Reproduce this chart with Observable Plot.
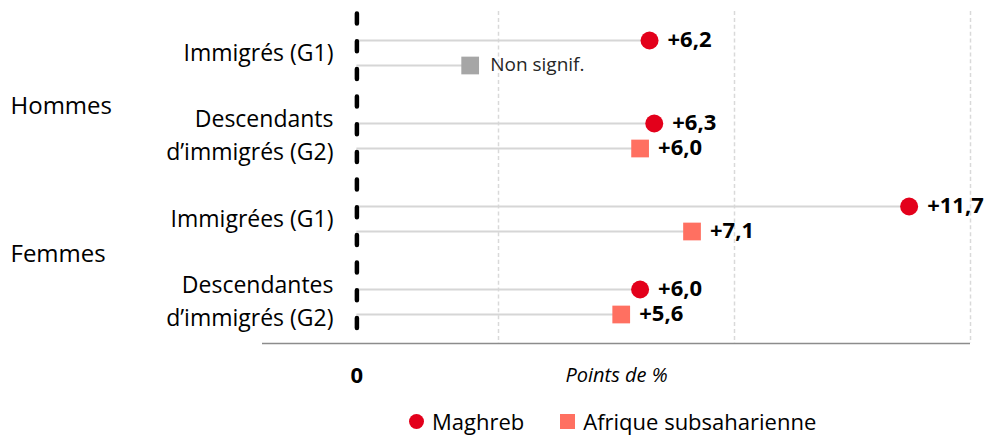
<!DOCTYPE html>
<html>
<head>
<meta charset="utf-8">
<script src="https://cdn.jsdelivr.net/npm/d3@7"></script>
<script src="https://cdn.jsdelivr.net/npm/@observablehq/plot@0.6"></script>
<style>
  html, body { margin: 0; padding: 0; background: #fff; }
  body { width: 986px; height: 435px; overflow: hidden; font-family: "Open Sans", sans-serif; }
  #legend { display: flex; align-items: center; padding-left: 409px; padding-top: 6px; height: 30px; font-size: 22px; line-height: 30px; color: #000; }
  #legend .sw { display: inline-block; width: 15px; height: 15px; margin-right: 8px; }
</style>
</head>
<body>
<div id="chart"></div>
<div id="legend">
  <span class="sw" style="background:#e3001b;border-radius:50%"></span><span>Maghreb</span>
  <span class="sw" style="background:#ff7061;margin-left:36px"></span><span>Afrique subsaharienne</span>
</div>
<script>
const groups = ["Immigrés (G1)", "Descendants\nd’immigrés (G2)", "Immigrées (G1)", "Descendantes\nd’immigrés (G2)"];
const sexes = ["Hommes", "Femmes"];
const origins = ["Maghreb", "Afrique subsaharienne"];
const maghreb = [6.2, 6.3, 11.7, 6.0];
const afrique = [2.4, 6.0, 7.1, 5.6];
const afriqueSignif = [false, true, true, true];
const gridTicks = [3, 8, 13];
const xTicks = [0];
const xLabel = "Points de %";
const nsLabel = "Non signif.";

const data = groups.flatMap((g, i) => [
  {group: g, origin: origins[0], value: maghreb[i], signif: true},
  {group: g, origin: origins[1], value: afrique[i], signif: afriqueSignif[i]}
]);
const fmt = v => "+" + v.toFixed(1).replace(".", ",");
const last = groups[groups.length - 1];

const chart = Plot.plot({
  width: 986,
  height: 400,
  marginLeft: 262,
  marginRight: 16,
  marginTop: 11,
  marginBottom: 57,
  style: {fontFamily: "'Open Sans', sans-serif", fontSize: "23px", color: "#000", background: "#fff"},
  x: {domain: [-2, 13], axis: null},
  y: {type: "point", domain: origins, padding: 1.16, axis: null},
  fy: {domain: groups, padding: 0, axis: null},
  color: {type: "identity"},
  marks: [
    Plot.ruleX(gridTicks, {x: d => d, stroke: "#d9d9d9", strokeWidth: 1.5, strokeDasharray: "4,2.9"}),
    Plot.ruleY(data, {fy: "group", y: "origin", x1: 0, x2: "value", stroke: "#d6d6d6", strokeWidth: 2}),
    Plot.ruleY([last], {fy: d => d, y: () => origins[1], dy: 28.9, stroke: "#8c8c8c", strokeWidth: 1.5}),
    Plot.ruleX(xTicks, {x: d => d, stroke: "#000", strokeWidth: 4.5, strokeDasharray: "10,17.7", strokeDashoffset: -2.5, strokeLinecap: "round"}),
    Plot.dot(data.filter(d => d.origin === origins[0]), {fy: "group", y: "origin", x: "value", r: 9, symbol: "circle", fill: "#e3001b"}),
    Plot.dot(data.filter(d => d.origin === origins[1]), {fy: "group", y: "origin", x: "value", r: 10, symbol: "square", fill: d => d.signif ? "#ff7061" : "#a6a6a6"}),
    Plot.text(data.filter(d => d.signif), {fy: "group", y: "origin", x: "value", text: d => fmt(d.value), dx: 18, dy: -1, textAnchor: "start", fontWeight: "bold", fontSize: 22}),
    Plot.text(data.filter(d => !d.signif), {fy: "group", y: "origin", x: "value", text: () => nsLabel, dx: 20, dy: -1, textAnchor: "start", fontSize: 19, fill: "#262626"}),
    Plot.text(groups, {fy: d => d, text: d => d, frameAnchor: "left", dx: 71, dy: -3, textAnchor: "end", lineAnchor: "middle", lineHeight: 1.45, fontSize: 23}),
    Plot.text([sexes[0]], {fy: () => groups[0], text: d => d, frameAnchor: "bottom-left", dx: -252, dy: 12, textAnchor: "start", lineAnchor: "middle", fontSize: 24}),
    Plot.text([sexes[1]], {fy: () => groups[2], text: d => d, frameAnchor: "bottom-left", dx: -252, dy: -6, textAnchor: "start", lineAnchor: "middle", fontSize: 24}),
    Plot.text(xTicks, {fy: () => last, x: d => d, text: d => String(d), frameAnchor: "bottom", dy: 32, lineAnchor: "middle", fontWeight: "bold", fontSize: 22}),
    Plot.text([xLabel], {fy: () => last, text: d => d, frameAnchor: "bottom", dy: 32, lineAnchor: "middle", fontStyle: "italic", fontSize: 20})
  ]
});
document.getElementById("chart").appendChild(chart);
</script>
</body>
</html>
